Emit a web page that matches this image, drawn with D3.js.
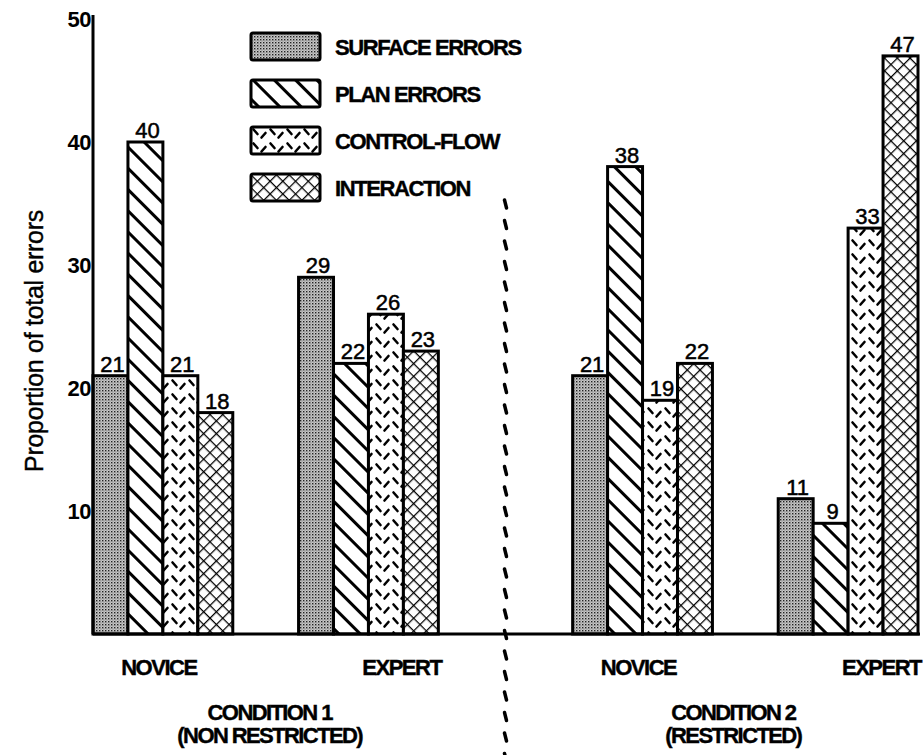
<!DOCTYPE html>
<html>
<head>
<meta charset="utf-8">
<script src="https://cdn.jsdelivr.net/npm/d3@7"></script>
<style>
  body { margin: 0; background: #fff; }
  svg { display: block; font-family: "Liberation Sans", Arial, Helvetica, sans-serif; }
</style>
</head>
<body>
<div id="chart"></div>
<script>
// data (groups: cond 1 novice, cond 1 expert, cond 2 novice, cond 2 expert)
const CONDITIONS = ["CONDITION 1", "CONDITION 2"];
const CONDITION_NOTES = ["(NON RESTRICTED)", "(RESTRICTED)"];
const LEVELS = ["NOVICE", "EXPERT"];
const SERIES = ["SURFACE ERRORS", "PLAN ERRORS", "CONTROL-FLOW", "INTERACTION"];
const SURFACE = [21, 29, 21, 11];
const PLAN = [40, 22, 38, 9];
const CONTROL = [21, 26, 19, 33];
const INTERACTION = [18, 23, 22, 47];
const Y_TICKS = [10, 20, 30, 40, 50];
const Y_TITLE = "Proportion of total errors";

const W = 923, H = 755;
const plotLeft = 93, plotRight = 918, plotBase = 634, plotTop = 19;

const svg = d3.select('#chart').append('svg')
  .attr('width', W).attr('height', H);

const defs = svg.append('defs');

// surface: gray dither
const pSurf = defs.append('pattern').attr('id', 'p-surface')
  .attr('patternUnits', 'userSpaceOnUse').attr('width', 3).attr('height', 3);
pSurf.append('rect').attr('width', 3).attr('height', 3).attr('fill', '#c8c8c8');
pSurf.append('rect').attr('x', 0).attr('y', 0).attr('width', 1.4).attr('height', 1.4).attr('fill', '#222');
pSurf.append('rect').attr('x', 1.5).attr('y', 1.5).attr('width', 1).attr('height', 1).attr('fill', '#666');

// plan: "\" hatching
const pPlan = defs.append('pattern').attr('id', 'p-plan')
  .attr('patternUnits', 'userSpaceOnUse').attr('width', 15).attr('height', 15)
  .attr('patternTransform', 'rotate(-45)');
pPlan.append('rect').attr('width', 15).attr('height', 15).attr('fill', '#fff');
pPlan.append('line').attr('x1', 1.5).attr('x2', 1.5).attr('y1', 0).attr('y2', 15)
  .attr('stroke', '#000').attr('stroke-width', 3);

// control-flow: broken zigzag dashes
const pCtrl = defs.append('pattern').attr('id', 'p-control')
  .attr('patternUnits', 'userSpaceOnUse').attr('width', 17).attr('height', 14);
pCtrl.append('rect').attr('width', 17).attr('height', 14).attr('fill', '#fff');
pCtrl.append('path').attr('d', 'M2.5,2.5L6.5,7M14.5,6L10.5,10.5')
  .attr('stroke', '#000').attr('stroke-width', 2.6).attr('stroke-linecap', 'round').attr('fill', 'none');

// interaction: cross hatch
const pInt = defs.append('pattern').attr('id', 'p-interaction')
  .attr('patternUnits', 'userSpaceOnUse').attr('width', 9).attr('height', 9)
  .attr('patternTransform', 'rotate(45)');
pInt.append('rect').attr('width', 9).attr('height', 9).attr('fill', '#fff');
pInt.append('path').attr('d', 'M0,0H9M0,0V9')
  .attr('stroke', '#000').attr('stroke-width', 2.5).attr('fill', 'none');

const FILLS = ['url(#p-surface)', 'url(#p-plan)', 'url(#p-control)', 'url(#p-interaction)'];
const SERIES_VALUES = [SURFACE, PLAN, CONTROL, INTERACTION];

// scales
const x0 = d3.scaleBand().domain(CONDITIONS).range([plotLeft, plotRight]).paddingInner(0.28);
const x1 = d3.scaleBand().domain(LEVELS).range([0, x0.bandwidth()]).paddingInner(0.32);
const x2 = d3.scaleBand().domain(SERIES).range([0, x1.bandwidth()]);
const y = d3.scaleLinear().domain([0, 50]).range([plotBase, plotTop]);

const bars = [];
CONDITIONS.forEach((c, ci) => {
  LEVELS.forEach((l, li) => {
    const gi = ci * LEVELS.length + li;
    SERIES.forEach((s, si) => {
      bars.push({ cond: c, level: l, series: s, si, value: SERIES_VALUES[si][gi] });
    });
  });
});

const bx = d => x0(d.cond) + x1(d.level) + x2(d.series);

// bars
svg.append('g').selectAll('rect').data(bars).join('rect')
  .attr('x', bx)
  .attr('y', d => y(d.value))
  .attr('width', x2.bandwidth())
  .attr('height', d => plotBase - y(d.value))
  .attr('fill', d => FILLS[d.si])
  .attr('stroke', '#000')
  .attr('stroke-width', 3);

// value labels
svg.append('g').selectAll('text').data(bars).join('text')
  .attr('x', d => bx(d) + x2.bandwidth() / 2 + 2)
  .attr('y', d => y(d.value) - 4)
  .attr('text-anchor', 'middle')
  .attr('font-size', 22)
  .attr('fill', '#000').attr('stroke', '#000').attr('stroke-width', 0.5)
  .text(d => d.value);

// baseline
svg.append('line')
  .attr('x1', plotLeft).attr('x2', 920).attr('y1', plotBase).attr('y2', plotBase)
  .attr('stroke', '#000').attr('stroke-width', 3);

// y axis
const yAxis = svg.append('g')
  .attr('transform', `translate(${plotLeft},0)`)
  .call(d3.axisLeft(y).tickValues(Y_TICKS).tickSize(0).tickPadding(2).tickSizeOuter(0));
yAxis.select('.domain').attr('stroke', '#000').attr('stroke-width', 3)
  .attr('d', `M0,${plotBase}V15`);
yAxis.selectAll('text')
  .attr('font-size', 22).attr('font-weight', 'bold').attr('letter-spacing', -0.5)
  .attr('font-family', '"Liberation Sans", Arial, sans-serif').attr('fill', '#000');

svg.append('text')
  .attr('transform', `translate(43,${341}) rotate(-90)`)
  .attr('text-anchor', 'middle')
  .attr('font-size', 25).attr('letter-spacing', -0.3)
  .attr('stroke', '#000').attr('stroke-width', 0.4)
  .text(Y_TITLE);

// level labels
const levelLabels = [];
CONDITIONS.forEach(c => LEVELS.forEach(l => levelLabels.push({ cond: c, level: l })));
svg.append('g').selectAll('text').data(levelLabels).join('text')
  .attr('x', d => d.level === 'NOVICE'
    ? x0(d.cond) + x1(d.level) + x1.bandwidth() / 2 - 4
    : x0(d.cond) + x1(d.level) + x1.bandwidth() + 3)
  .attr('y', 675)
  .attr('text-anchor', d => d.level === 'NOVICE' ? 'middle' : 'end')
  .attr('font-size', 22).attr('font-weight', 'bold').attr('letter-spacing', -1.5)
  .attr('stroke', '#000').attr('stroke-width', 0.4)
  .text(d => d.level);

// condition labels
const condG = svg.append('g').selectAll('g').data(CONDITIONS).join('g')
  .attr('transform', (d, i) => `translate(${x0(d) + x0.bandwidth() / 2 + (i ? -12 : 4)},0)`);
condG.append('text')
  .attr('y', 720).attr('text-anchor', 'middle')
  .attr('font-size', 22).attr('font-weight', 'bold').attr('letter-spacing', -1.6)
  .attr('stroke', '#000').attr('stroke-width', 0.4)
  .text(d => d);
condG.append('text')
  .attr('y', 743).attr('text-anchor', 'middle')
  .attr('font-size', 22).attr('font-weight', 'bold').attr('letter-spacing', -1.6)
  .attr('stroke', '#000').attr('stroke-width', 0.4)
  .text((d, i) => CONDITION_NOTES[i]);

// divider between conditions
const divX = (x0(CONDITIONS[0]) + x0.bandwidth() + x0(CONDITIONS[1])) / 2;
const dashYs = d3.range(200, H, 20.5);
svg.append('g').selectAll('line').data(dashYs).join('line')
  .attr('x1', divX - 1).attr('x2', divX + 1)
  .attr('y1', d => d).attr('y2', d => d + 8)
  .attr('stroke', '#000').attr('stroke-width', 3.5).attr('stroke-linecap', 'round');

// legend
const lg = svg.append('g').attr('transform', 'translate(251,33)');
const rows = lg.selectAll('g').data(SERIES).join('g')
  .attr('transform', (d, i) => `translate(0,${i * 47})`);
rows.append('rect')
  .attr('width', 69).attr('height', 27).attr('rx', 2)
  .attr('fill', (d, i) => FILLS[i])
  .attr('stroke', '#000').attr('stroke-width', 3);
rows.append('text')
  .attr('x', 84).attr('y', 22)
  .attr('font-size', 22).attr('font-weight', 'bold').attr('letter-spacing', -1.4)
  .attr('stroke', '#000').attr('stroke-width', 0.4)
  .text(d => d);
</script>
</body>
</html>
